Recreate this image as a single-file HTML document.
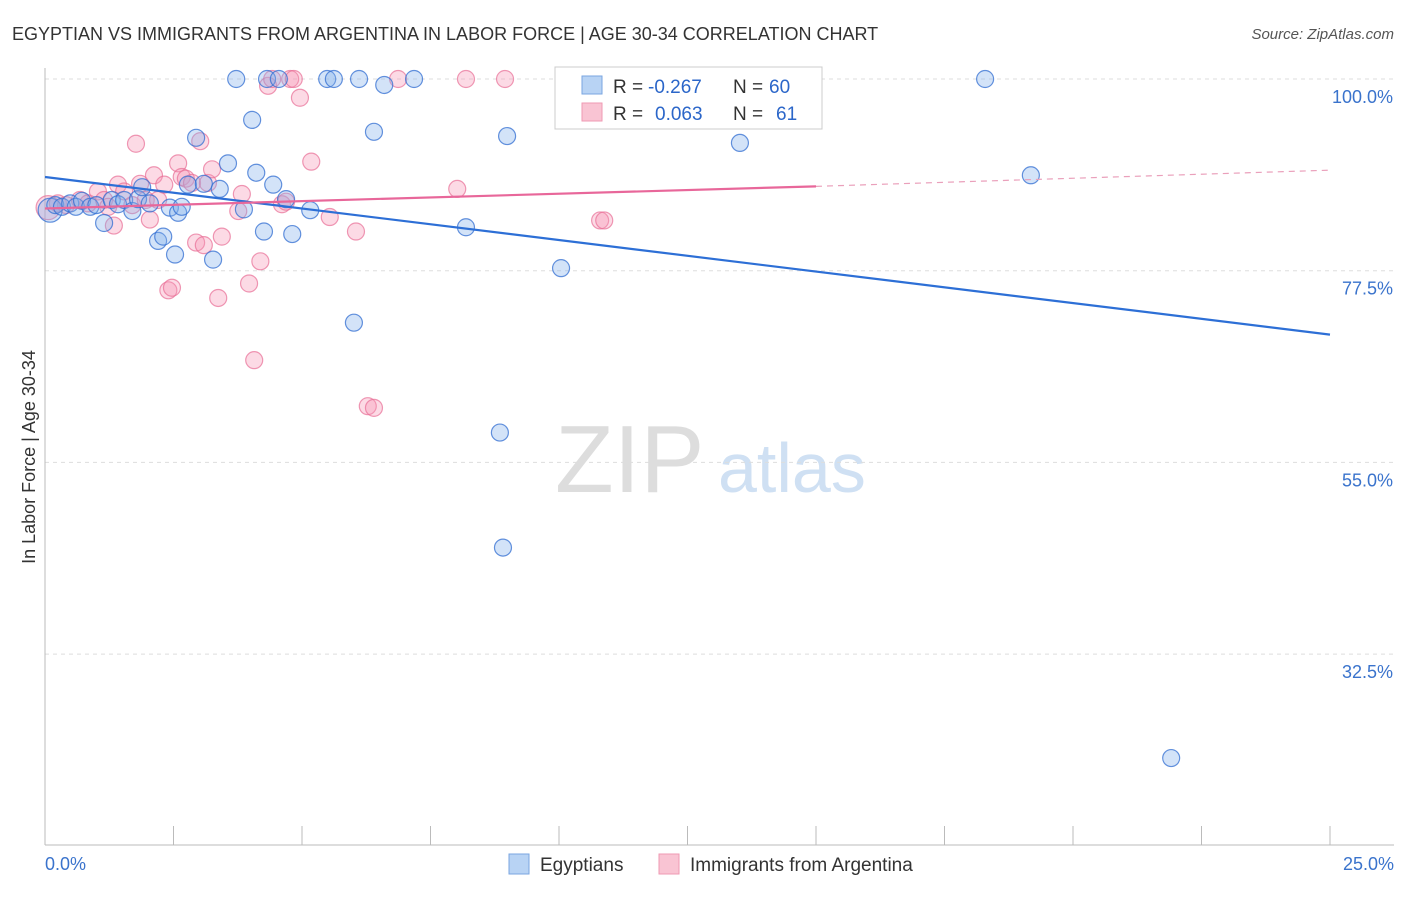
<!DOCTYPE html>
<html><head><meta charset="utf-8"><style>
body{margin:0;background:#fff;font-family:"Liberation Sans",sans-serif;}
svg text{font-family:"Liberation Sans",sans-serif;}
</style></head><body>
<svg id="c" width="1406" height="892" xmlns="http://www.w3.org/2000/svg">
<text x="12" y="40" font-size="18" fill="#333">EGYPTIAN VS IMMIGRANTS FROM ARGENTINA IN LABOR FORCE | AGE 30-34 CORRELATION CHART</text>
<text x="1394" y="39" font-size="15" fill="#555" font-style="italic" text-anchor="end">Source: ZipAtlas.com</text>
<text x="35" y="457" font-size="18" fill="#333" transform="rotate(-90 35 457)" text-anchor="middle">In Labor Force | Age 30-34</text>
<text x="555" y="492" font-size="96" fill="#ddd" font-family="Liberation Serif">ZIP</text>
<text x="718" y="492" font-size="70" fill="#cfe0f3">atlas</text>
<g id="grid"></g><g id="pts"></g><g id="lines"></g>
<g>
<rect x="555" y="67" width="267" height="62" fill="#fff" stroke="#ccc"/>
<rect x="582" y="76" width="20" height="18" fill="#b8d3f4" stroke="#7aa6e0"/>
<rect x="582" y="103" width="20" height="18" fill="#f9c4d3" stroke="#ef9ab3"/>
<text x="613" y="93" font-size="19" fill="#333">R =</text>
<text x="648" y="93" font-size="19" fill="#2b66c9">-0.267</text>
<text x="733" y="93" font-size="19" fill="#333">N =</text>
<text x="769" y="93" font-size="19" fill="#2b66c9">60</text>
<text x="613" y="120" font-size="19" fill="#333">R =</text>
<text x="655" y="120" font-size="19" fill="#2b66c9">0.063</text>
<text x="733" y="120" font-size="19" fill="#333">N =</text>
<text x="776" y="120" font-size="19" fill="#2b66c9">61</text>
</g>
<g>
<rect x="509" y="854" width="20" height="20" fill="#b8d3f4" stroke="#7aa6e0"/>
<text x="540" y="871" font-size="19" fill="#333">Egyptians</text>
<rect x="659" y="854" width="20" height="20" fill="#f9c4d3" stroke="#ef9ab3"/>
<text x="690" y="871" font-size="19" fill="#333">Immigrants from Argentina</text>
</g>
</svg>
<script>
const yTicks=[100,77.5,55,32.5];
const xTickLabels=["0.0%","25.0%"];
const blueX=[0.1,0.2,0.33,0.49,0.6,0.72,0.88,1.0,1.15,1.3,1.42,1.54,1.7,1.81,1.89,2.04,2.2,2.3,2.43,2.53,2.59,2.66,2.78,2.94,3.09,3.27,3.4,3.56,3.72,3.87,4.03,4.11,4.26,4.32,4.44,4.55,4.69,4.81,5.16,5.49,5.62,6.01,6.11,6.4,6.6,7.18,8.19,8.85,8.91,8.99,10.04,10.4,13.52,18.29,19.18,21.91];
const blueY=[84.6,85.2,85.0,85.4,85.0,85.7,85.0,85.2,83.1,85.8,85.3,85.8,84.5,85.9,87.3,85.4,81.0,81.5,84.9,79.4,84.3,85.0,87.6,93.1,87.7,78.8,87.1,90.1,100,84.7,95.2,89.0,82.1,100,87.6,100,85.9,81.8,84.6,100,100,71.4,100,93.8,99.3,100,82.6,58.5,45.0,93.3,77.8,100,92.5,100,88.7,20.3];
const pinkX=[0.06,0.25,0.41,0.68,0.84,1.03,1.15,1.23,1.34,1.42,1.54,1.7,1.77,1.85,1.96,2.04,2.12,2.2,2.32,2.4,2.47,2.59,2.66,2.74,2.86,2.94,3.02,3.09,3.17,3.25,3.37,3.44,3.76,3.83,3.97,4.07,4.19,4.34,4.42,4.61,4.69,4.77,4.84,4.96,5.18,5.54,6.05,6.28,6.4,6.87,8.02,8.19,8.95,10.8,10.88];
const pinkY=[84.9,85.4,85.2,85.8,85.4,86.8,85.8,85.0,82.8,87.6,86.8,85.2,92.4,87.7,85.8,83.5,88.7,85.8,87.6,75.2,75.5,90.1,88.5,88.3,87.8,80.8,92.7,80.5,87.8,89.4,74.3,81.5,84.5,86.5,76.0,67.0,78.6,99.2,100,85.3,85.6,100,100,97.8,90.3,83.8,82.1,61.6,61.4,100,87.1,100,100,83.4,83.4];
const blueLine=[[0,88.5],[25,70.0]];
const pinkLine=[[0,84.8],[15,87.4]];
const pinkDash=[[15,87.4],[25,89.3]];
const X=v=>45+v*51.4, Y=v=>79+(100-v)*8.52;
const NS="http://www.w3.org/2000/svg";
function mk(t,a,p){const e=document.createElementNS(NS,t);for(const k in a)e.setAttribute(k,a[k]);p.appendChild(e);return e;}
const g=document.getElementById('grid');
yTicks.forEach(t=>{const l=mk('line',{x1:45,x2:1394,y1:Y(t),y2:Y(t),stroke:'#ddd','stroke-dasharray':'4,4'},g);

const tx=mk('text',{x:1393,y:Y(t)+24,'font-size':18,fill:'#3a73cc','text-anchor':'end'},g);tx.textContent=t.toFixed(1)+'%';
});
const ax=mk('line',{x1:45,x2:45,y1:68,y2:845,stroke:'#bbb'},g);
const bx=mk('line',{x1:45,x2:1394,y1:845,y2:845,stroke:'#bbb'},g);
for(let i=0;i<=10;i++){const t=mk('line',{x1:X(i*2.5),x2:X(i*2.5),y1:826,y2:845,stroke:'#bbb'},g);}
[[0,'start',45],[1,'end',1394]].forEach(([i,a,x])=>{const t=mk('text',{x:x,y:870,'font-size':18,fill:'#3a73cc','text-anchor':a},g);t.textContent=xTickLabels[i];});
const p=document.getElementById('pts');
function pts(xs,ys,f,s,n){xs.forEach((x,i)=>{const c=mk('circle',{cx:X(x),cy:Y(ys[i]),r:i==0?12:8.5,fill:f,stroke:s,'stroke-width':1.2},p);
});}
pts(pinkX,pinkY,'rgba(245,150,180,0.35)','rgba(232,110,150,0.7)','argentina-point');
pts(blueX,blueY,'rgba(130,175,235,0.35)','rgba(50,110,210,0.75)','egyptian-point');
const L=document.getElementById('lines');
function ln(d,c,w,dash,n){const e=mk('line',{x1:X(d[0][0]),y1:Y(d[0][1]),x2:X(d[1][0]),y2:Y(d[1][1]),stroke:c,'stroke-width':w},L);if(dash)e.setAttribute('stroke-dasharray',dash);
}
ln(blueLine,'#2d6fd6',2.2,null,'egyptian-trendline');
ln(pinkLine,'#e8679a',2.2,null,'argentina-trendline');
ln(pinkDash,'#eaa0bb',1.2,'6,5','argentina-trendline-extension');
</script>
</body></html>
